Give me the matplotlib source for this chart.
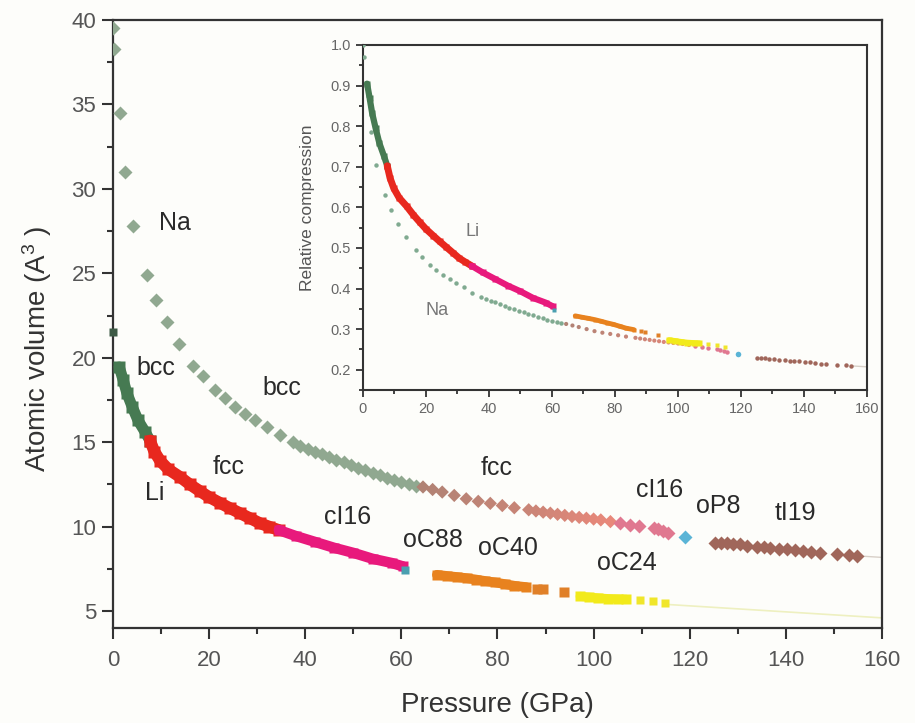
import numpy as np
import matplotlib
matplotlib.use("Agg")
import matplotlib.pyplot as plt
from matplotlib.ticker import MultipleLocator
from matplotlib.colors import LinearSegmentedColormap

plt.rcParams['font.family'] = ['Liberation Sans', 'DejaVu Sans']
plt.rcParams['mathtext.fontset'] = 'custom'
plt.rcParams['mathtext.rm'] = 'Liberation Sans'
plt.rcParams['mathtext.default'] = 'regular'

# ---- Na (pressure in GPa, atomic volume in A^3) ----
na_bcc_p = [0.1, 0.2, 1.5, 2.5, 4.2, 7.0, 8.9, 11.2, 13.7, 16.7, 18.8, 21.2, 23.3,
            25.4, 27.5, 29.5, 32.0, 34.7, 37.5, 39.0, 40.5, 42.0, 43.5, 45.0, 46.5,
            48.0, 49.5, 51.0, 52.5, 54.0, 55.5, 57.0, 58.5, 60.0, 61.5, 63.0]
na_bcc_v = [39.5, 38.3, 34.5, 31.0, 27.8, 24.9, 23.4, 22.1, 20.8, 19.5, 18.9, 18.1, 17.6,
            17.1, 16.7, 16.3, 15.9, 15.4, 15.0, 14.8, 14.6, 14.45, 14.3, 14.1, 13.95,
            13.8, 13.65, 13.5, 13.35, 13.2, 13.05, 12.9, 12.75, 12.62, 12.5, 12.4]
na_fcc_p = [64.5, 66.5, 68.5, 71.0, 73.5, 76.0, 78.5, 81.0, 83.5, 86.5, 88.0, 89.5,
            91.0, 92.5, 94.0, 95.5, 97.0, 98.5, 100.0, 101.5, 103.5]
na_fcc_v = [12.35, 12.2, 12.05, 11.85, 11.65, 11.5, 11.38, 11.25, 11.12, 11.0, 10.93, 10.86,
            10.8, 10.73, 10.67, 10.6, 10.55, 10.5, 10.45, 10.4, 10.3]
na_ci16_p = [105.5, 107.5, 109.5, 112.5, 113.5, 114.5, 115.5]
na_ci16_v = [10.2, 10.12, 10.05, 9.95, 9.85, 9.75, 9.62]
na_op8_p = [119.0]
na_op8_v = [9.4]
na_ti19_p = [125.2, 126.5, 127.7, 129.0, 130.4, 132.0, 134.0, 135.5, 136.7, 138.5, 140.2,
             142.0, 143.6, 145.3, 147.1, 150.6, 153.2, 154.8]
na_ti19_v = [9.05, 9.03, 9.02, 8.98, 8.95, 8.88, 8.82, 8.78, 8.75, 8.7, 8.65,
             8.6, 8.56, 8.5, 8.46, 8.4, 8.32, 8.28]
na_fit_p = [155.0, 160.0]
na_fit_v = [8.27, 8.18]
na_v0 = 39.5

# ---- Li ----
li_v0_p = [0.0]
li_v0_v = [21.5]
li_bcc_p = [1.3, 2.1, 2.9, 4.0, 5.2, 6.7, 7.7]
li_bcc_v = [19.45, 18.7, 17.9, 17.1, 16.3, 15.6, 15.1]
li_fcc_p = [7.7, 8.6, 9.8, 11.5, 13.9, 16.0, 18.1, 20.0, 22.3, 24.3, 26.4, 28.5, 30.6, 32.5, 34.5]
li_fcc_v = [15.1, 14.45, 13.9, 13.4, 12.95, 12.5, 12.1, 11.75, 11.4, 11.1, 10.8, 10.5, 10.2, 10.0, 9.8]
li_ci16_p = [34.5, 38.0, 42.0, 46.0, 50.0, 54.0, 58.0, 60.3]
li_ci16_v = [9.8, 9.45, 9.1, 8.75, 8.45, 8.1, 7.85, 7.65]
li_oc88_p = [60.8]
li_oc88_v = [7.45]
li_oc40_p = [67.4, 69.5, 71.5, 73.6, 75.5, 77.5, 79.5, 81.5, 83.5, 86.0]
li_oc40_v = [7.15, 7.08, 7.02, 6.95, 6.87, 6.78, 6.7, 6.6, 6.5, 6.42]
li_oc40_dots_p = [88.3, 89.5, 93.8]
li_oc40_dots_v = [6.33, 6.3, 6.15]
li_oc24_p = [97.2, 99.0, 101.0, 103.0, 105.0, 106.8]
li_oc24_v = [5.87, 5.83, 5.78, 5.74, 5.72, 5.7]
li_oc24_dots_p = [109.6, 112.3, 114.8]
li_oc24_dots_v = [5.66, 5.6, 5.5]
li_fit_p = [115.0, 160.0]
li_fit_v = [5.4, 4.6]
li_v0 = 21.5

fig = plt.figure(figsize=(9.15, 7.23), dpi=100)
fig.patch.set_facecolor('#fdfdfa')
ax = fig.add_axes([0.1235, 0.1314, 0.8404, 0.8409])
ax.set_facecolor('#fdfdfa')

# main panel: Na as diamonds
fcc_cmap = LinearSegmentedColormap.from_list('nafcc', ['#b08274', '#e8887a'])
ax.plot(na_fit_p, na_fit_v, color='#d8d0c8', lw=1, zorder=1)
ax.plot(li_fit_p, li_fit_v, color='#eef0c0', lw=1.2, zorder=1)
ax.plot(na_bcc_p, na_bcc_v, 'D', color='#90a890', ms=7, mec='none', zorder=3)
ax.scatter(na_fcc_p, na_fcc_v, marker='D', s=46, c=fcc_cmap(np.linspace(0, 1, len(na_fcc_p))),
           edgecolors='none', zorder=3)
ax.plot(na_ci16_p, na_ci16_v, 'D', color='#e07890', ms=7, mec='none', zorder=3)
ax.plot(na_op8_p, na_op8_v, 'D', color='#5ab4d6', ms=7, mec='none', zorder=3)
ax.plot(na_ti19_p, na_ti19_v, 'D', color='#a0665a', ms=7, mec='none', zorder=3)


# Li as dense bands
def band(a, p, v, color, lw, ms):
    a.plot(p, v, '-', color=color, lw=lw, solid_capstyle='round', zorder=4)
    a.plot(p, v, 's', color=color, ms=ms, mec='none', zorder=4)


ax.plot(li_v0_p, li_v0_v, 's', color='#3d5a45', ms=6, mec='none', zorder=4, clip_on=False)
band(ax, li_bcc_p, li_bcc_v, '#467a52', 8, 8)
band(ax, li_fcc_p, li_fcc_v, '#e8281e', 8.5, 8.5)
band(ax, li_ci16_p, li_ci16_v, '#e8197c', 7.5, 7.5)
ax.plot(li_oc88_p, li_oc88_v, 's', color='#4a9fb0', ms=6, mec='none', zorder=4)
band(ax, li_oc40_p, li_oc40_v, '#e8821e', 7, 7)
ax.plot(li_oc40_dots_p, li_oc40_dots_v, 's', color='#e08028', ms=6.5, mec='none', zorder=4)
band(ax, li_oc24_p, li_oc24_v, '#f2ea1a', 6.5, 6.5)
ax.plot(li_oc24_dots_p, li_oc24_dots_v, 's', color='#f0e62a', ms=6, mec='none', zorder=4)

ax.set_xlim(0, 160)
ax.set_ylim(4, 40)
ax.xaxis.set_major_locator(MultipleLocator(20))
ax.xaxis.set_minor_locator(MultipleLocator(10))
ax.yaxis.set_major_locator(MultipleLocator(5))
ax.yaxis.set_minor_locator(MultipleLocator(2.5))
ax.tick_params(which='both', direction='out', width=1.5, color='#333333',
               labelsize=16, labelcolor='#555555')
ax.tick_params(which='major', length=8)
ax.tick_params(which='minor', length=4.5)
ax.tick_params(axis='x', pad=8)
ax.tick_params(axis='y', pad=4)
for s in ax.spines.values():
    s.set_linewidth(1.6)
    s.set_color('#333333')

ax.set_xlabel('Pressure (GPa)', fontsize=20, color='#333333', va='center')
ax.xaxis.set_label_coords(0.5, -0.127)
ax.set_ylabel('Atomic volume (A$^3$ )', fontsize=20, color='#333333', va='center')
ax.yaxis.set_label_coords(-0.099, 0.46)

labels = [('Na', 12.9, 28.0), ('bcc', 8.9, 19.4), ('bcc', 35.1, 18.2), ('fcc', 24.1, 13.55),
          ('Li', 8.7, 12.0), ('fcc', 79.9, 13.5), ('cI16', 48.9, 10.6), ('oC88', 66.6, 9.2),
          ('oC40', 82.2, 8.75), ('oC24', 106.9, 7.85), ('cI16', 113.8, 12.2),
          ('oP8', 125.9, 11.2), ('tI19', 141.9, 10.8)]
for t, x, y in labels:
    ax.text(x, y, t, fontsize=18, color='#2a2a2a', ha='center', va='center', zorder=6)

# ---- inset: relative compression V/V0 ----
ins = fig.add_axes([0.3967, 0.4606, 0.5508, 0.4772])
ins.set_facecolor('#fdfdfa')


def rel(v, v0):
    return np.array(v) / v0


ins.plot(na_bcc_p, rel(na_bcc_v, na_v0), 'o', color='#80aa90', ms=3.2, mec='none', zorder=3)
ins.scatter(na_fcc_p, rel(na_fcc_v, na_v0), marker='o', s=9,
            c=fcc_cmap(np.linspace(0, 1, len(na_fcc_p))), edgecolors='none', zorder=3)
ins.plot(na_ci16_p, rel(na_ci16_v, na_v0), 'o', color='#e07890', ms=3.2, mec='none', zorder=3)
ins.plot(na_op8_p, rel(na_op8_v, na_v0), 'o', color='#5ab4d6', ms=4, mec='none', zorder=3)
ins.plot(na_ti19_p, rel(na_ti19_v, na_v0), 'o', color='#a0665a', ms=3.2, mec='none', zorder=3)
ins.plot(na_fit_p, rel(na_fit_v, na_v0), color='#d8d0c8', lw=1, zorder=1)

band(ins, li_bcc_p, rel(li_bcc_v, li_v0), '#467a52', 4.5, 4.5)
band(ins, li_fcc_p, rel(li_fcc_v, li_v0), '#e8281e', 5, 5)
band(ins, li_ci16_p, rel(li_ci16_v, li_v0), '#e8197c', 4.5, 4.5)
ins.plot(li_oc88_p, rel(li_oc88_v, li_v0), 's', color='#4a9fb0', ms=3, mec='none', zorder=4)
band(ins, li_oc40_p, rel(li_oc40_v, li_v0), '#e8821e', 3.5, 3.5)
ins.plot(li_oc40_dots_p, rel(li_oc40_dots_v, li_v0), 's', color='#e08028', ms=3, mec='none', zorder=4)
band(ins, li_oc24_p, rel(li_oc24_v, li_v0), '#f2ea1a', 4, 4)
ins.plot(li_oc24_dots_p, rel(li_oc24_dots_v, li_v0), 's', color='#f0e62a', ms=3, mec='none', zorder=4)

ins.set_xlim(0, 160)
ins.set_ylim(0.15, 1.0)
ins.xaxis.set_major_locator(MultipleLocator(20))
ins.xaxis.set_minor_locator(MultipleLocator(10))
ins.yaxis.set_major_locator(MultipleLocator(0.1))
ins.yaxis.set_minor_locator(MultipleLocator(0.05))
ins.tick_params(which='both', direction='out', width=1.3, color='#333333',
                labelsize=10.5, labelcolor='#666666')
ins.tick_params(which='major', length=5)
ins.tick_params(which='minor', length=3)
for s in ins.spines.values():
    s.set_linewidth(1.5)
    s.set_color('#333333')
ins.set_ylabel('Relative compression', fontsize=12.5, color='#555555', va='center')
ins.yaxis.set_label_coords(-0.111, 0.528)
ins.text(34.9, 0.541, 'Li', fontsize=13, color='#777777', ha='center', va='center')
ins.text(23.5, 0.345, 'Na', fontsize=13, color='#777777', ha='center', va='center')

fig.savefig('out.png', dpi=100, facecolor=fig.get_facecolor())
